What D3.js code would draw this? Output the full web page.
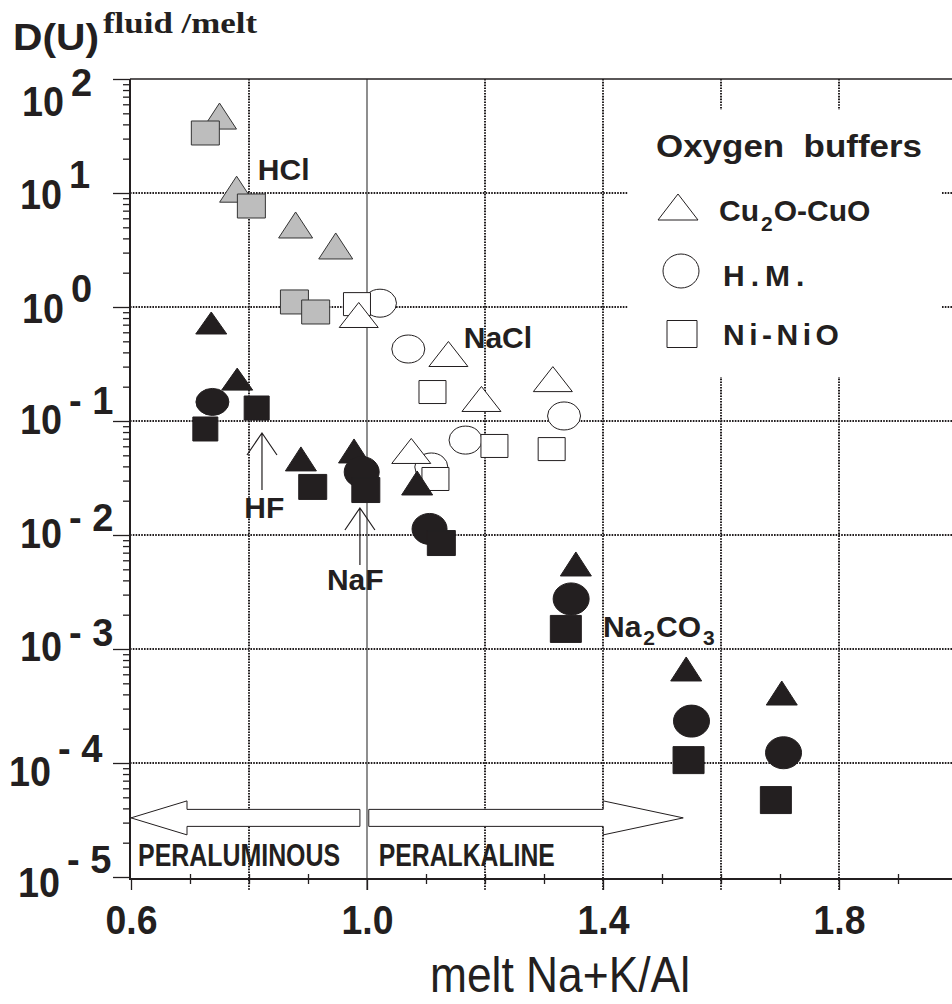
<!DOCTYPE html>
<html>
<head>
<meta charset="utf-8">
<script src="https://cdn.jsdelivr.net/npm/d3@7"></script>
<style>
  html, body { margin: 0; padding: 0; background: #fff; }
  svg { display: block; }
  text { font-family: "Liberation Sans", Arial, Helvetica, sans-serif; fill: #231f20; }
</style>
</head>
<body>
<svg id="chart" width="952" height="1004"></svg>
<script>
// ---- axes ----
const xDomain = [0.6, 2.0];
const yDomain = [1e-5, 1e2];
const xLabelTicks = [0.6, 1.0, 1.4, 1.8];
const xGridTicks = [0.8, 1.2, 1.4, 1.6, 1.8];
const xMinorTicks = [0.7, 0.8, 0.9, 1.1, 1.2, 1.3, 1.5, 1.6, 1.7, 1.9];
const yDecadeExps = [2, 1, 0, -1, -2, -3, -4, -5];
const yGridExps = [1, 0, -1, -2, -3, -4];

// ---- D(U) fluid/melt, [melt (Na+K)/Al, D] ----
// HCl fluids
const hclCuO = [[0.750, 47.3], [0.779, 10.8], [0.879, 5.24], [0.947, 3.43]];
const hclNNO = [[0.726, 33.6], [0.804, 7.69], [0.877, 1.107], [0.913, 0.904]];
// NaCl fluids
const naclCuO = [[0.986, 0.851], [1.138, 0.387], [1.194, 0.156], [1.315, 0.233], [1.075, 0.0546]];
const naclHM = [[1.022, 1.08], [1.070, 0.428], [1.334, 0.1107], [1.167, 0.068], [1.109, 0.0395]];
const naclNNO = [[0.983, 1.06], [1.111, 0.1795], [1.216, 0.0604], [1.313, 0.0567], [1.116, 0.031]];
// HF fluids
const hfCuO = [[0.736, 0.724], [0.780, 0.233]];
const hfHM = [[0.738, 0.147]];
const hfNNO = [[0.726, 0.0851], [0.813, 0.130]];
// NaF fluids
const nafCuO = [[0.888, 0.0465], [0.978, 0.0546], [1.085, 0.0286]];
const nafHM = [[0.991, 0.0357], [1.106, 0.0113]];
const nafNNO = [[0.908, 0.0264], [0.998, 0.0248], [1.126, 0.0085]];
// Na2CO3 fluids
const carbCuO = [[1.354, 0.00557], [1.541, 0.000668], [1.703, 0.000411]];
const carbHM = [[1.346, 0.00275], [1.550, 0.000233], [1.706, 0.000123]];
const carbNNO = [[1.337, 0.0015], [1.545, 0.000106], [1.693, 4.73e-5]];

// fluid labels, anchored in data space
const fluidLabels = [
  { parts: [["HCl", 0]], x: 0.815, y: 13.0 },
  { parts: [["NaCl", 0]], x: 1.164, y: 0.436 },
  { parts: [["HF", 0]], x: 0.792, y: 0.0141 },
  { parts: [["NaF", 0]], x: 0.932, y: 0.0033 },
  { parts: [["Na", 0], ["2", 1], ["CO", 0], ["3", 1]], x: 1.400, y: 0.00127 }
];
// pointer arrows (tip in data space)
const pointers = [
  { x: 0.822, y: 0.0785 },
  { x: 0.988, y: 0.01726 }
];
// melt composition fields
const fields = [
  { label: "PERALUMINOUS", tip: 0.6, tail: 0.988, y: 3.3e-5 },
  { label: "PERALKALINE", tip: 1.536, tail: 1.003, y: 3.3e-5 }
];
const legendTitle = "Oxygen  buffers";
const legendRows = [
  { shape: "tri", parts: [["Cu", 0], ["2", 1], ["O-CuO", 0]] },
  { shape: "circ", parts: [["H.M.", 0]] },
  { shape: "sq", parts: [["Ni-NiO", 0]] }
];

// ---- layout ----
const svg = d3.select("#chart");
const W = 952, H = 1004;
const x = d3.scaleLinear().domain(xDomain).range([131, 957]);
const y = d3.scaleLog().domain(yDomain).range([877, 79]);
const plotLeft = 130, plotBottom = 879, plotTop = y(1e2), plotRight = W;
const ink = "#231f20";
const grey = "#bdbdbd";

svg.append("rect").attr("width", W).attr("height", H).attr("fill", "#fff");

// dotted grid
const grid = svg.append("g").attr("stroke", ink).attr("stroke-width", 2)
  .attr("stroke-dasharray", "1.6,1.2").attr("fill", "none");
grid.selectAll("line.h").data(yGridExps).join("line").attr("class", "h")
  .attr("x1", plotLeft).attr("x2", plotRight)
  .attr("y1", d => y(Math.pow(10, d))).attr("y2", d => y(Math.pow(10, d)));
grid.selectAll("line.v").data(xGridTicks).join("line").attr("class", "v")
  .attr("x1", d => x(d)).attr("x2", d => x(d))
  .attr("y1", plotTop).attr("y2", plotBottom + 12);

// solid divide at (Na+K)/Al = 1
svg.append("line").attr("x1", x(1.0)).attr("x2", x(1.0))
  .attr("y1", plotTop).attr("y2", plotBottom + 11)
  .attr("stroke", "#444").attr("stroke-width", 1.2);

// frame lines
svg.append("line").attr("x1", plotLeft).attr("x2", plotRight).attr("y1", plotTop).attr("y2", plotTop)
  .attr("stroke", ink).attr("stroke-width", 1.5);
svg.append("line").attr("x1", plotLeft).attr("x2", plotLeft).attr("y1", plotTop).attr("y2", plotBottom + 1)
  .attr("stroke", ink).attr("stroke-width", 2);
svg.append("line").attr("x1", plotLeft - 1).attr("x2", plotRight).attr("y1", plotBottom).attr("y2", plotBottom)
  .attr("stroke", ink).attr("stroke-width", 2);

// y ticks (log minors and decades)
const minorY = [];
for (let e = -5; e < 2; e++) for (let k = 2; k <= 9; k++) minorY.push(k * Math.pow(10, e));
const yMinorAxis = d3.axisLeft(y).tickValues(minorY).tickSize(7).tickFormat("");
const yMajorAxis = d3.axisLeft(y).tickValues(yDecadeExps.map(e => Math.pow(10, e))).tickSize(17).tickFormat("");
[yMinorAxis, yMajorAxis].forEach(ax => {
  const g = svg.append("g").attr("transform", `translate(${plotLeft},0)`).call(ax);
  g.select(".domain").remove();
  g.selectAll(".tick line").attr("stroke", ink).attr("stroke-width", 1.3);
});

// x ticks
const xMinorAxis = d3.axisBottom(x).tickValues(xMinorTicks).tickSize(10).tickFormat("");
const gxm = svg.append("g").attr("transform", `translate(0,${plotBottom - 5})`).call(xMinorAxis);
gxm.select(".domain").remove();
gxm.selectAll(".tick line").attr("stroke", ink).attr("stroke-width", 1.3);

const xMajorAxis = d3.axisBottom(x).tickValues(xLabelTicks).tickSize(11).tickFormat(d3.format(".1f"));
const gx = svg.append("g").attr("transform", `translate(0,${plotBottom})`).call(xMajorAxis);
gx.select(".domain").remove();
gx.selectAll(".tick line").attr("stroke", ink).attr("stroke-width", 1.3);
gx.selectAll(".tick text")
  .attr("y", 55).attr("dy", 0)
  .attr("font-size", 41).attr("font-weight", "bold")
  .attr("font-family", "'Liberation Sans', Arial, sans-serif")
  .attr("fill", ink)
  .attr("textLength", 52).attr("lengthAdjust", "spacingAndGlyphs");

// decade labels 10^n
const decadeLeft = [22, 20, 22, 20, 20, 20, 9, 18];
const decadeDrop = [37, 16, 16, 13, 13, 12, 23, 20];
const expRise = [20, 21, 21, 20, 17, 15, 24, 24];
const yLab = svg.append("g").attr("font-weight", "bold");
yDecadeExps.forEach((e, i) => {
  const y0 = y(Math.pow(10, e));
  yLab.append("text").attr("x", decadeLeft[i]).attr("y", y0 + decadeDrop[i])
    .attr("font-size", 43).attr("textLength", 42).attr("lengthAdjust", "spacingAndGlyphs")
    .text("10");
  yLab.append("text").attr("x", decadeLeft[i] + 49).attr("y", y0 + decadeDrop[i] - expRise[i])
    .attr("font-size", 38).style("white-space", "pre")
    .text(e < 0 ? "- " + (-e) : String(e));
});

// axis titles
svg.append("text").attr("x", 13).attr("y", 50)
  .attr("font-size", 37).attr("font-weight", "bold")
  .attr("textLength", 86).attr("lengthAdjust", "spacingAndGlyphs")
  .text("D(U)");
svg.append("text").attr("x", 103).attr("y", 33)
  .attr("font-size", 30).attr("font-weight", "bold")
  .style("font-family", "'Liberation Serif', 'Times New Roman', serif").style("white-space", "pre")
  .attr("textLength", 154).attr("lengthAdjust", "spacingAndGlyphs")
  .text("fluid /melt");
svg.append("text").attr("x", 430).attr("y", 992)
  .attr("font-size", 50)
  .attr("textLength", 260).attr("lengthAdjust", "spacingAndGlyphs")
  .text("melt Na+K/Al");

// composition field arrows
const fieldG = svg.append("g");
fields.forEach(f => {
  const yc = y(f.y);
  const dir = f.tip < f.tail ? -1 : 1;
  const tipX = x(f.tip), tailX = x(f.tail);
  const headLen = dir < 0 ? 56 : 80;
  const baseX = tipX - dir * headLen;
  const pts = [
    [tailX, yc - 8.5], [baseX, yc - 8.5], [baseX, yc - 17], [tipX, yc],
    [baseX, yc + 17], [baseX, yc + 8.5], [tailX, yc + 8.5]
  ];
  fieldG.append("path").attr("d", d3.line()(pts) + "Z")
    .attr("fill", "#fff").attr("stroke", ink).attr("stroke-width", 1);
});
fieldG.append("text").attr("x", x(0.612)).attr("y", 866)
  .attr("font-size", 31).attr("font-weight", "bold")
  .attr("textLength", 202).attr("lengthAdjust", "spacingAndGlyphs")
  .text(fields[0].label);
fieldG.append("text").attr("x", x(1.020)).attr("y", 866)
  .attr("font-size", 31).attr("font-weight", "bold")
  .attr("textLength", 176).attr("lengthAdjust", "spacingAndGlyphs")
  .text(fields[1].label);

// marker shapes
function markerPath(shape, w, h) {
  if (shape === "tri") return `M0,${-h / 2}L${w / 2},${h / 2}L${-w / 2},${h / 2}Z`;
  if (shape === "sq") return `M${-w / 2},${-h / 2}h${w}v${h}h${-w}Z`;
  const rx = w / 2, ry = h / 2;
  return `M${-rx},0a${rx},${ry} 0 1,0 ${w},0a${rx},${ry} 0 1,0 ${-w},0Z`;
}
const seriesDefs = [
  { data: hclCuO, shape: "tri", w: 34, h: 26, fill: grey, stroke: "#333" },
  { data: hclNNO, shape: "sq", w: 28, h: 24, fill: grey, stroke: "#333" },
  { data: naclHM, shape: "circ", w: 33, h: 28, fill: "#fff", stroke: ink },
  { data: naclNNO, shape: "sq", w: 27, h: 23, fill: "#fff", stroke: ink },
  { data: naclCuO, shape: "tri", w: 39, h: 25, fill: "#fff", stroke: ink },
  { data: hfCuO, shape: "tri", w: 31, h: 22, fill: ink, stroke: ink },
  { data: nafCuO, shape: "tri", w: 31, h: 24, fill: ink, stroke: ink },
  { data: carbCuO, shape: "tri", w: 31, h: 24, fill: ink, stroke: ink },
  { data: hfHM, shape: "circ", w: 33, h: 27, fill: ink, stroke: ink },
  { data: nafHM, shape: "circ", w: 35, h: 31, fill: ink, stroke: ink },
  { data: carbHM, shape: "circ", w: 36, h: 32, fill: ink, stroke: ink },
  { data: hfNNO, shape: "sq", w: 25, h: 24, fill: ink, stroke: ink },
  { data: nafNNO, shape: "sq", w: 28, h: 25, fill: ink, stroke: ink },
  { data: carbNNO, shape: "sq", w: 31, h: 27, fill: ink, stroke: ink }
];
const marks = svg.append("g");
seriesDefs.forEach(s => {
  marks.append("g").selectAll("path").data(s.data).join("path")
    .attr("transform", d => `translate(${x(d[0])},${y(d[1])})`)
    .attr("d", markerPath(s.shape, s.w, s.h))
    .attr("fill", s.fill).attr("stroke", s.stroke).attr("stroke-width", 1);
});

// fluid labels
function richText(g, parts, size, subSize, subDrop) {
  const t = g.append("text").attr("font-weight", "bold").attr("font-size", size);
  let prevSub = false;
  parts.forEach(([str, sub]) => {
    const ts = t.append("tspan").text(str);
    if (sub) ts.attr("font-size", subSize).attr("dy", prevSub ? 0 : subDrop).attr("dx", 2);
    else if (prevSub) ts.attr("dy", -subDrop).attr("dx", 1);
    prevSub = !!sub;
  });
  return t;
}
const labG = svg.append("g");
fluidLabels.forEach(l => {
  richText(labG, l.parts, 30, 21, 8).attr("x", x(l.x)).attr("y", y(l.y));
});

// pointer arrows
pointers.forEach(p => {
  const px = x(p.x), py = y(p.y);
  labG.append("path")
    .attr("d", `M${px},${py}V${py + 57}M${px - 15},${py + 22}L${px},${py}L${px + 15},${py + 22}`)
    .attr("fill", "none").attr("stroke", ink).attr("stroke-width", 1.2);
});

// legend
const lg = svg.append("g");
lg.append("rect").attr("x", 628).attr("y", 110).attr("width", 314).attr("height", 267).attr("fill", "#fff");
lg.append("text").attr("x", 656).attr("y", 157)
  .attr("font-size", 32).attr("font-weight", "bold").style("white-space", "pre")
  .attr("textLength", 266).attr("lengthAdjust", "spacingAndGlyphs")
  .text(legendTitle);
const rowBase = [221, 286, 345];
const rowMark = { tri: [678, 207, 40, 26], circ: [681, 271, 36, 34], sq: [682, 334, 30, 27] };
const rowText = [719, 723, 723];
const rowSpacing = [0, 6, 4.5];
legendRows.forEach((r, i) => {
  const m = rowMark[r.shape];
  lg.append("path").attr("transform", `translate(${m[0]},${m[1]})`)
    .attr("d", markerPath(r.shape, m[2], m[3]))
    .attr("fill", "#fff").attr("stroke", ink).attr("stroke-width", 1);
  richText(lg, r.parts, 30, 21, 10).attr("x", rowText[i]).attr("y", rowBase[i])
    .attr("letter-spacing", rowSpacing[i]);
});
</script>
</body>
</html>
